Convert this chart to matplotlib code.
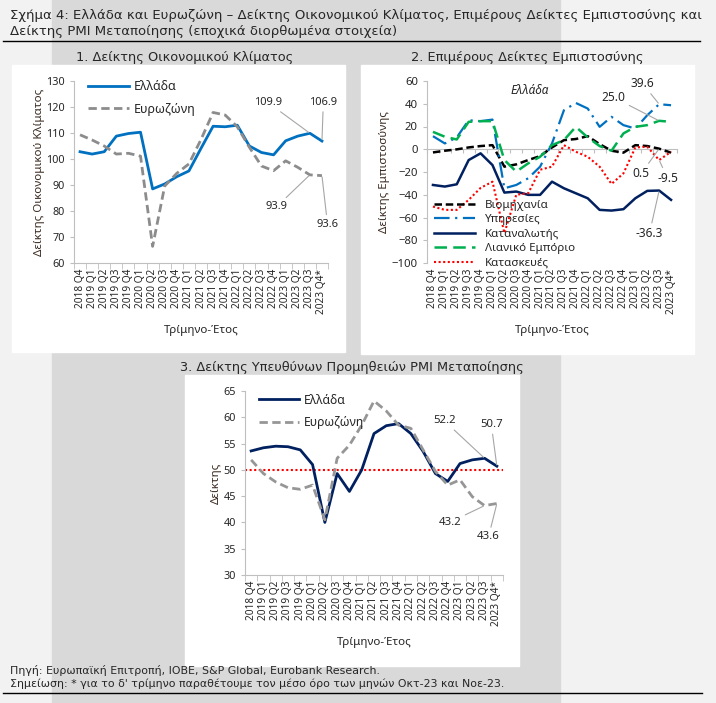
import numpy as np
import matplotlib.pyplot as plt
from matplotlib.patches import Rectangle
from matplotlib.lines import Line2D

plt.rcParams['font.family'] = ['Noto Sans', 'DejaVu Sans']

quarters = ['2018 Q4', '2019 Q1', '2019 Q2', '2019 Q3', '2019 Q4', '2020 Q1', '2020 Q2',
            '2020 Q3', '2020 Q4', '2021 Q1', '2021 Q2', '2021 Q3', '2021 Q4', '2022 Q1',
            '2022 Q2', '2022 Q3', '2022 Q4', '2023 Q1', '2023 Q2', '2023 Q3', '2023 Q4*']

# 1. economic sentiment
esi_gr = [102.8, 101.9, 102.8, 108.8, 109.8, 110.3, 88.5, 90.4, 93.2, 95.4, 104.1,
          112.6, 112.4, 113.0, 105.0, 102.5, 101.6, 107.0, 108.8, 109.9, 106.9]
esi_ez = [109.3, 107.3, 105.0, 101.9, 102.2, 101.1, 66.4, 89.6, 94.5, 98.1, 107.5,
          117.9, 116.9, 112.4, 104.5, 97.3, 95.5, 99.3, 96.8, 93.9, 93.6]

# 2. confidence indicators (Greece)
industry = [-2.8, -1.3, -0.1, 1.6, 2.8, 3.6, -15.3, -13.3, -9.5, -6.0, 1.6,
            8.0, 9.0, 11.5, 4.5, -1.3, -3.0, 3.6, 2.8, 0.5, -3.0]
services = [11.5, 5.1, 10.4, 25.5, 24.7, 26.1, -34.3, -31.4, -25.5, -15.3, 5.1,
            34.3, 40.7, 35.8, 19.7, 28.5, 21.2, 18.2, 29.9, 39.6, 38.7]
consumer = [-31.4, -32.8, -30.8, -9.5, -3.6, -13.9, -38.1, -37.2, -40.1, -40.1, -28.5,
            -34.3, -38.7, -43.1, -53.3, -53.9, -52.7, -43.1, -36.6, -36.3, -44.5]
retail = [15.3, 11.0, 8.6, 24.1, 24.7, 24.7, -9.5, -19.7, -12.4, -6.6, 3.6,
          8.0, 19.7, 10.4, 2.8, -1.3, 13.9, 19.7, 21.2, 25.0, 24.1]
construction = [-50.4, -53.3, -53.3, -44.5, -34.0, -28.5, -73.7, -40.0, -38.7, -18.0, -15.3,
                3.6, -2.2, -6.6, -15.3, -30.5, -21.2, 1.6, 2.2, -9.5, -2.2]

# 3. PMI manufacturing
pmi_gr = [53.6, 54.2, 54.5, 54.4, 53.8, 51.0, 40.0, 49.3, 45.9, 50.0, 56.9,
          58.4, 58.8, 56.9, 53.5, 49.3, 47.8, 51.2, 51.9, 52.2, 50.7]
pmi_ez = [51.9, 49.3, 47.7, 46.6, 46.3, 47.1, 40.5, 52.2, 54.7, 58.5, 63.1,
          61.2, 58.5, 57.9, 53.8, 49.7, 47.1, 48.1, 44.9, 43.2, 43.6]

W, H = 716, 703
fig = plt.figure(figsize=(W / 100, H / 100), dpi=100, facecolor='#f2f2f2')

def px_rect(x0, y0, x1, y1, color):
    fig.patches.append(Rectangle((x0 / W, 1 - y1 / H), (x1 - x0) / W, (y1 - y0) / H,
                                 transform=fig.transFigure, color=color, zorder=-10))

def px_axes(l, t, r, b):
    ax = fig.add_axes([l / W, 1 - b / H, (r - l) / W, (b - t) / H])
    ax.patch.set_alpha(0)
    return ax

px_rect(52, 0, 560, H, '#d9d9d9')
px_rect(12, 65, 345, 352, 'white')
px_rect(361, 65, 694, 354, 'white')
px_rect(185, 375, 519, 666, 'white')

fig.add_artist(Line2D([3 / W, 700 / W], [1 - 41 / H] * 2, color='black', lw=1))
fig.add_artist(Line2D([3 / W, 702 / W], [1 - 693 / H] * 2, color='black', lw=1))

txt = '#262626'
wide = ['DejaVu Sans']
fig.text(10 / W, 1 - 15 / H, 'Σχήμα 4: Ελλάδα και Ευρωζώνη – Δείκτης Οικονομικού Κλίματος, '
         'Επιμέρους Δείκτες Εμπιστοσύνης και', fontsize=9.5, va='center', color=txt, family=wide)
fig.text(10 / W, 1 - 31 / H, 'Δείκτης PMI Μεταποίησης (εποχικά διορθωμένα στοιχεία)',
         fontsize=9.5, va='center', color=txt, family=wide)
fig.text(10 / W, 1 - 671 / H, 'Πηγή: Ευρωπαϊκή Επιτροπή, IOBE, S&P Global, Eurobank Research.',
         fontsize=7.9, va='center', color=txt, family=wide)
fig.text(10 / W, 1 - 684 / H, "Σημείωση: * για το δ' τρίμηνο παραθέτουμε τον μέσο όρο "
         "των μηνών Οκτ-23 και Νοε-23.", fontsize=7.9, va='center', color=txt, family=wide)

fig.text(185 / W, 1 - 57 / H, '1. Δείκτης Οικονομικού Κλίματος', fontsize=9.3,
         ha='center', va='center', color=txt, family=wide)
fig.text(527 / W, 1 - 57 / H, '2. Επιμέρους Δείκτες Εμπιστοσύνης', fontsize=9.3,
         ha='center', va='center', color=txt, family=wide)
fig.text(352 / W, 1 - 367 / H, '3. Δείκτης Υπευθύνων Προμηθειών PMI Μεταποίησης', fontsize=9.3,
         ha='center', va='center', color=txt, family=wide)

x = np.arange(len(quarters))
edges = np.arange(-0.5, len(quarters), 1)
grey_ax = '#bfbfbf'
lead = dict(arrowstyle='-', color='#a6a6a6', lw=0.8, shrinkA=1, shrinkB=1)

def style(ax, ylim, yticks, ylabel, zero=False, tsize=7.8):
    ax.set_xlim(-0.5, len(quarters) - 0.5)
    ax.set_ylim(*ylim)
    ax.set_yticks(yticks)
    ax.set_xticks(x)
    ax.set_xticklabels(quarters, rotation=90, fontsize=7.3, color=txt)
    ax.set_xticks(edges, minor=True)
    ax.tick_params(axis='x', which='major', length=0, pad=4)
    ax.tick_params(axis='y', labelsize=tsize, labelcolor=txt, color=grey_ax, length=3)
    ax.tick_params(axis='x', which='minor', color=grey_ax, length=4)
    for s in ['top', 'right']:
        ax.spines[s].set_visible(False)
    ax.spines['left'].set_color(grey_ax)
    ax.spines['bottom'].set_color(grey_ax)
    ax.set_xlabel('Τρίμηνο-Έτος', fontsize=8.3, color=txt, labelpad=8)
    ax.set_ylabel(ylabel, fontsize=8.3, color='#3a2a20', labelpad=1)
    if zero:
        ax.spines['bottom'].set_visible(False)
        ax.tick_params(axis='x', which='minor', length=0)
        frac = (0 - ylim[0]) / (ylim[1] - ylim[0])
        sec = ax.secondary_xaxis(frac)
        sec.set_xticks(edges)
        sec.set_xticklabels([])
        sec.tick_params(direction='in', length=3, color=grey_ax)
        for s in sec.spines.values():
            s.set_color(grey_ax)

# panel 1
ax1 = px_axes(74, 81, 328, 263)
ax1.plot(x, esi_gr, color='#0070c0', lw=2, label='Ελλάδα')
ax1.plot(x, esi_ez, color='#8c8c8c', lw=2, ls=(0, (3, 1.6)), label='Ευρωζώνη')
style(ax1, (60, 130), range(60, 131, 10), 'Δείκτης Οικονομικού Κλίματος')
ax1.legend(loc='upper left', bbox_to_anchor=(0.01, 1.065), frameon=False, fontsize=9,
           handlelength=3.3, handletextpad=0.35, labelspacing=0.75, labelcolor=txt)
for val, series, i, off in [(109.9, esi_gr, 19, (-30, 22)), (106.9, esi_gr, 20, (1, 28)),
                            (93.9, esi_ez, 19, (-24, -23)), (93.6, esi_ez, 20, (4, -35))]:
    ax1.annotate(f'{val:.1f}', (i, series[i]), xytext=off, textcoords='offset points',
                 ha='center', va='center', fontsize=8, color=txt, arrowprops=lead)

# panel 2
ax2 = px_axes(427, 81, 677, 263)
ax2.plot(x, industry, color='black', lw=1.8, ls=(0, (3, 1.5)), label='Βιομηχανία')
ax2.plot(x, services, color='#0070c0', lw=1.6, ls=(0, (7, 2.5, 1, 2.5)), label='Υπηρεσίες')
ax2.plot(x, consumer, color='#002060', lw=1.8, label='Καταναλωτής')
ax2.plot(x, retail, color='#00b050', lw=1.8, ls=(0, (5, 2.5)), label='Λιανικό Εμπόριο')
ax2.plot(x, construction, color='#ff0000', lw=1.5, ls=(0, (1, 1.2)), label='Κατασκευές')
style(ax2, (-100, 60), range(-100, 61, 20), 'Δείκτης Εμπιστοσύνης', zero=True, tsize=8.2)
ax2.text(0.41, 0.95, 'Ελλάδα', transform=ax2.transAxes, fontsize=8.5, style='italic',
         ha='center', va='center', color=txt)
ax2.legend(loc='lower left', bbox_to_anchor=(0.0, -0.07), frameon=False, fontsize=8.3,
           handlelength=3.6, labelspacing=0.3, labelcolor=txt, borderaxespad=0.2)
for val, series, off in [(39.6, services, (-12, 15)), (25.0, retail, (-33, 17)),
                         (0.5, industry, (-13, -18)), (-9.5, construction, (6, -13)),
                         (-36.3, consumer, (-7, -31))]:
    ax2.annotate(f'{val:.1f}', (19, series[19]), xytext=off, textcoords='offset points',
                 ha='center', va='center', fontsize=8.6, color=txt, arrowprops=lead)

# panel 3
ax3 = px_axes(245, 391, 503, 575)
ax3.axhline(50, color='#ff0000', lw=1.5, ls=(0, (1, 1.2)))
ax3.plot(x, pmi_gr, color='#002060', lw=2, label='Ελλάδα')
ax3.plot(x, pmi_ez, color='#969696', lw=2, ls=(0, (3, 1.6)), label='Ευρωζώνη')
style(ax3, (30, 65), range(30, 66, 5), 'Δείκτης')
handles, labels = ax3.get_legend_handles_labels()
ax3.legend(handles, labels, loc='upper left', bbox_to_anchor=(0.01, 1.045), frameon=False,
           fontsize=8.8, handlelength=3.3, handletextpad=0.4, labelspacing=0.75, labelcolor=txt)
for val, series, i, off in [(52.2, pmi_gr, 19, (-29, 27)), (50.7, pmi_gr, 20, (-4, 30)),
                            (43.2, pmi_ez, 19, (-25, -12)), (43.6, pmi_ez, 20, (-6, -24))]:
    ax3.annotate(f'{val:.1f}', (i, series[i]), xytext=off, textcoords='offset points',
                 ha='center', va='center', fontsize=8.2, color=txt, arrowprops=lead)

fig.savefig('out.png', dpi=100, facecolor=fig.get_facecolor())
